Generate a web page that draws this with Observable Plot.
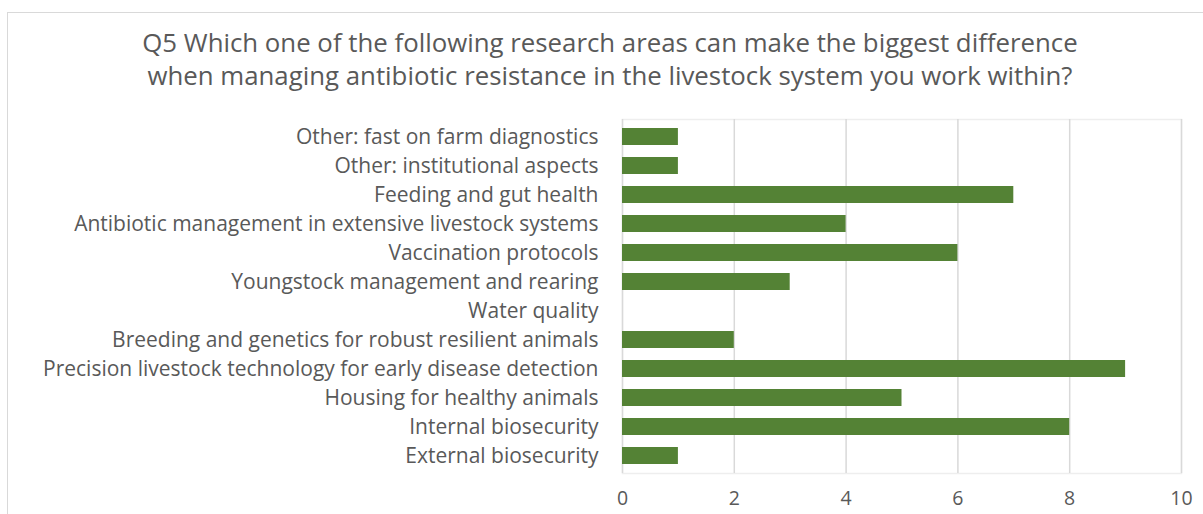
<!DOCTYPE html>
<html>
<head>
<meta charset="utf-8">
<script src="https://cdn.jsdelivr.net/npm/d3@7"></script>
<script src="https://cdn.jsdelivr.net/npm/@observablehq/plot@0.6"></script>
<style>
  html, body { margin: 0; padding: 0; background: #fff; }
  body { width: 1203px; height: 514px; overflow: hidden; position: relative; font-family: "Open Sans", sans-serif; }
  #frame { position: absolute; left: 7px; top: 12px; width: 1230px; height: 540px; border: 1.5px solid #d9d9d9; box-sizing: border-box; }
  #title { position: relative; height: 100px; width: 1220px; text-align: center; color: #595959; font-size: 25.8px; line-height: 33px; padding-top: 26px; box-sizing: border-box; white-space: nowrap; }
  #chart { position: relative; height: 414px; }
  #chart svg { display: block; }
</style>
</head>
<body>
<div id="frame"></div>
<div id="title">Q5 Which one of the following research areas can make the biggest difference<br>when managing antibiotic resistance in the livestock system you work within?</div>
<div id="chart"></div>
<script>
// Survey answers: research area and number of respondents choosing it (top to bottom)
const areas = [
  "Other: fast on farm diagnostics",
  "Other: institutional aspects",
  "Feeding and gut health",
  "Antibiotic management in extensive livestock systems",
  "Vaccination protocols",
  "Youngstock management and rearing",
  "Water quality",
  "Breeding and genetics for robust resilient animals",
  "Precision livestock technology for early disease detection",
  "Housing for healthy animals",
  "Internal biosecurity",
  "External biosecurity"
];
const counts = [1, 1, 7, 4, 6, 3, 0, 2, 9, 5, 8, 1];
const xTicks = [0, 2, 4, 6, 8, 10];

const data = areas.map((area, i) => ({area, count: counts[i]}));

const chart = Plot.plot({
  width: 1203,
  height: 414,
  marginTop: 19,
  marginBottom: 41,
  marginLeft: 622,
  marginRight: 22,
  style: {fontFamily: "'Open Sans', sans-serif", fontSize: "21px", color: "#595959", background: "transparent"},
  x: {domain: [0, 10], ticks: xTicks, label: null},
  y: {domain: areas, label: null, paddingInner: 0.43, paddingOuter: 0.215},
  marks: [
    Plot.frame({stroke: "#eeeeee", strokeWidth: 1.5}),
    Plot.ruleX(xTicks, {stroke: "#d9d9d9", strokeWidth: 1.5}),
    Plot.barX(data, {x: "count", y: "area", fill: "#548235"}),
    Plot.axisX({ticks: xTicks, tickSize: 0, tickPadding: 18, fill: "#595959", fontSize: 19.5, label: null}),
    Plot.axisY({tickSize: 0, tickPadding: 24, fill: "#595959", fontSize: 21, label: null})
  ]
});
document.getElementById("chart").appendChild(chart);
</script>
</body>
</html>
